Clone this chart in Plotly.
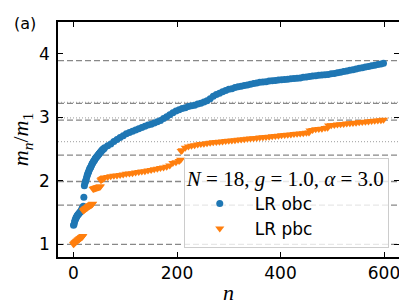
import plotly.graph_objects as go

# ---- data ----
obc_n_dense = list(range(0, 60))
obc_v_dense = [1.30, 1.31, 1.35, 1.38, 1.40, 1.42, 1.43, 1.45, 1.46, 1.47,
               1.48, 1.49, 1.50, 1.51, 1.52, 1.53, 1.55, 1.57, 1.58, 1.60,
               1.74, 1.92, 1.96, 1.99, 2.01, 2.04, 2.07, 2.10, 2.12, 2.14,
               2.16, 2.18, 2.20, 2.21, 2.23, 2.25, 2.27, 2.28, 2.29, 2.31,
               2.32, 2.33, 2.35, 2.36, 2.37, 2.38, 2.39, 2.40, 2.41, 2.42,
               2.43, 2.44, 2.45, 2.46, 2.47, 2.48, 2.49, 2.495, 2.50, 2.51]
obc_n_sparse = list(range(60, 600, 6)) + [599]
obc_v_sparse = [2.52, 2.55, 2.58, 2.62, 2.65, 2.68, 2.71, 2.74, 2.76, 2.78,
                2.80, 2.82, 2.84, 2.86, 2.88, 2.89, 2.91, 2.93, 2.95, 2.98,
                3.01, 3.04, 3.07, 3.10, 3.12, 3.14, 3.15, 3.17, 3.18, 3.19,
                3.21, 3.22, 3.24, 3.26, 3.29, 3.33, 3.36, 3.38, 3.40, 3.42,
                3.44, 3.45, 3.47, 3.48, 3.49, 3.50, 3.51, 3.52, 3.53, 3.54,
                3.55, 3.555, 3.56, 3.57, 3.575, 3.58, 3.585, 3.59, 3.595, 3.60,
                3.605, 3.61, 3.615, 3.62, 3.63, 3.635, 3.64, 3.65, 3.655, 3.66,
                3.665, 3.67, 3.675, 3.685, 3.69, 3.70, 3.71, 3.72, 3.73, 3.74,
                3.75, 3.76, 3.77, 3.78, 3.79, 3.80, 3.81, 3.82, 3.83, 3.84,
                3.85]

pbc_n_dense = list(range(0, 60))
pbc_v_dense = [1.00, 1.01, 1.02, 1.03, 1.035, 1.04, 1.05, 1.055, 1.06, 1.07,
               1.075, 1.08, 1.09, 1.095, 1.10, 1.11, 1.115, 1.12, 1.13,
               1.53, 1.54, 1.545, 1.55, 1.56, 1.565, 1.57, 1.575, 1.58, 1.59,
               1.595, 1.60, 1.605, 1.61, 1.615, 1.62, 1.625, 1.63, 1.64,
               1.87, 1.875, 1.878, 1.88, 1.883, 1.886, 1.889, 1.892, 1.895,
               1.897, 1.90, 1.902, 1.905, 1.907, 1.91,
               2.01, 2.02, 2.025, 2.03, 2.035, 2.04, 2.045]
pbc_n_sparse = [60, 66, 72, 78, 84, 90, 96, 102, 108, 114, 120, 126, 132, 138,
                144, 150, 156, 162, 168, 174, 180, 186, 192, 198, 204, 207,
                208, 210, 216, 222, 228, 234, 240, 246, 252, 258, 264, 270,
                276, 282, 288, 294, 300, 306, 312, 318, 324, 330, 336, 342,
                348, 354, 360, 366, 372, 378, 384, 390, 396, 402, 408, 414,
                420, 426, 432, 438, 444, 450, 455,
                457, 462, 468, 474, 480, 486, 491,
                493, 498, 504, 510, 516, 522, 528, 534, 540, 546, 552, 558,
                564, 570, 576, 582, 588, 594, 599]
pbc_v_sparse = [2.05, 2.06, 2.07, 2.08, 2.085, 2.09, 2.10, 2.11, 2.115, 2.12,
                2.13, 2.14, 2.145, 2.15, 2.16, 2.17, 2.18, 2.19, 2.20, 2.21,
                2.22, 2.24, 2.28, 2.29, 2.31, 2.33,
                2.47, 2.48, 2.52, 2.54, 2.55, 2.56, 2.57, 2.58, 2.585, 2.59,
                2.60, 2.605, 2.61, 2.615, 2.62, 2.625, 2.63, 2.635, 2.64,
                2.645, 2.65, 2.655, 2.66, 2.665, 2.67, 2.675, 2.68, 2.685,
                2.69, 2.695, 2.70, 2.705, 2.71, 2.715, 2.72, 2.725, 2.73,
                2.735, 2.74, 2.745, 2.75, 2.755, 2.76,
                2.79, 2.80, 2.81, 2.815, 2.82, 2.83, 2.835,
                2.87, 2.875, 2.88, 2.885, 2.89, 2.895, 2.90, 2.905, 2.91,
                2.915, 2.92, 2.925, 2.93, 2.935, 2.94, 2.945, 2.95, 2.955,
                2.96]

e8_ratios = [1.0, 1.618, 1.989, 2.405, 2.956, 3.218, 3.891]
thresholds = [2.618, 2.989, 3.236]

x_ticks = [0, 200, 400, 600]
y_ticks = [1, 2, 3, 4]

BLUE = "#1f77b4"
ORANGE = "#ff7f0e"
SANS = "DejaVu Sans"
SERIF = "Liberation Serif"

fig = go.Figure()

for v in thresholds:
    fig.add_hline(y=v, line=dict(color="#b0b0b0", width=1.2, dash="1px,2px"),
                  layer="below")
for v in e8_ratios:
    fig.add_hline(y=v, line=dict(color="#888888", width=1.3, dash="6px,3px"),
                  layer="below")

fig.add_trace(go.Scatter(
    x=obc_n_dense + obc_n_sparse, y=obc_v_dense + obc_v_sparse,
    mode="markers", name="LR obc",
    marker=dict(symbol="circle", size=7, color=BLUE, line=dict(width=0))))
fig.add_trace(go.Scatter(
    x=pbc_n_dense + pbc_n_sparse, y=pbc_v_dense + pbc_v_sparse,
    mode="markers", name="LR pbc",
    marker=dict(symbol="triangle-down", size=8, color=ORANGE, line=dict(width=0))))

axis_common = dict(showline=True, linecolor="black", linewidth=1.5, mirror="allticks",
                   ticks="inside", ticklen=5, tickwidth=1.3, tickcolor="black",
                   showgrid=False, zeroline=False,
                   tickfont=dict(family=SANS, size=17, color="black"))

fig.update_xaxes(range=[-29.95, 628.95], tickvals=x_ticks, **axis_common,
                 title=dict(text="<i>n</i>", font=dict(family=SERIF, size=22, color="black"),
                            standoff=2))
fig.update_yaxes(range=[0.8, 4.5], tickvals=y_ticks, **axis_common,
                 ticklabelstandoff=3,
                 title=dict(text="<i>m</i><sub><i>n</i></sub>/<i>m</i><sub>1</sub>",
                            font=dict(family=SERIF, size=22, color="black"),
                            standoff=4))

fig.update_layout(
    width=407, height=305,
    margin=dict(l=48, r=16, t=12, b=43),
    paper_bgcolor="white", plot_bgcolor="white",
    showlegend=True,
    legend=dict(
        x=0.97, y=0.04, xanchor="right", yanchor="bottom",
        bgcolor="rgba(255,255,255,0.8)", bordercolor="#cccccc", borderwidth=1,
        font=dict(family=SANS, size=17, color="black"),
        title=dict(text="<i>N</i> = 18, <i>g</i> = 1.0, <i>α</i> = 3.0",
                   font=dict(family=SERIF, size=21, color="black"), side="top"),
        itemwidth=60, tracegroupgap=0,
    ),
    annotations=[dict(text="(a)", x=0, y=1, xref="paper", yref="paper",
                      xanchor="left", yanchor="top", xshift=-46, yshift=10,
                      showarrow=False, font=dict(family=SANS, size=16, color="black"))],
)

fig.write_html("out.html")
